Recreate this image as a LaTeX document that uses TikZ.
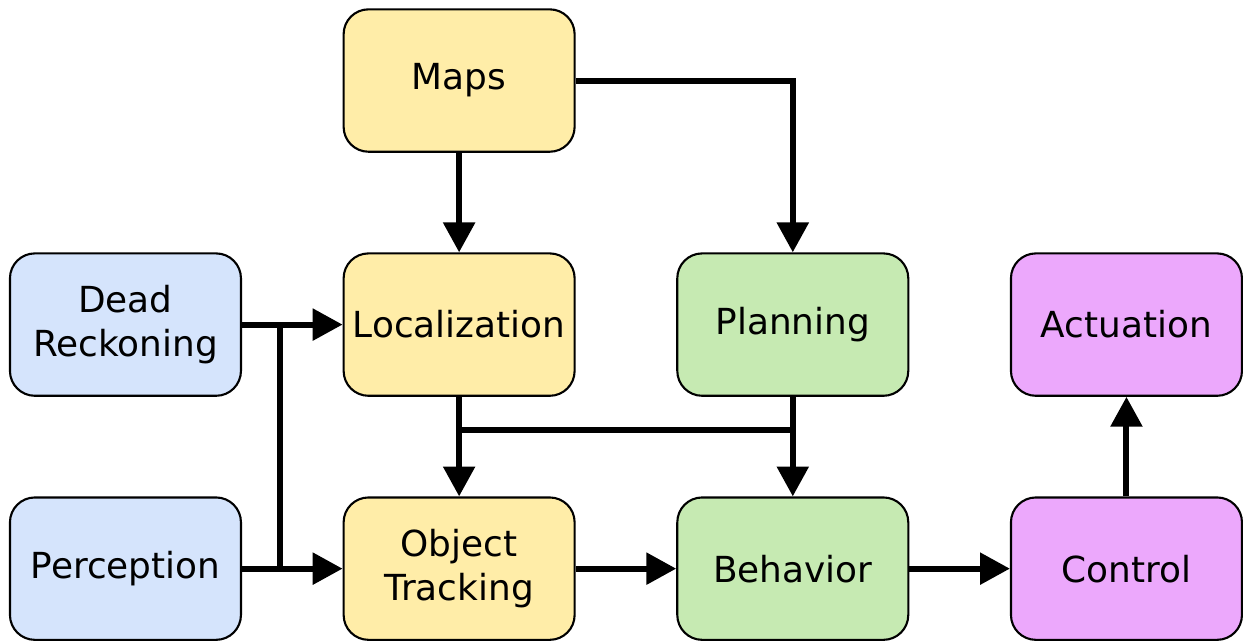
\documentclass[tikz,border=0pt]{standalone}
\usepackage{fontspec}
\setmainfont{DejaVu Sans}
\usetikzlibrary{positioning,arrows.meta,calc}

\definecolor{inblue}{RGB}{213,228,252}
\definecolor{locyellow}{RGB}{255,237,168}
\definecolor{plangreen}{RGB}{198,234,178}
\definecolor{actpurple}{RGB}{236,168,252}

\tikzset{
  block/.style={draw, line width=1.2pt, rounded corners=0.5cm,
    minimum width=4.64cm, minimum height=2.86cm, align=center,
    font=\fontsize{20.5}{25}\selectfont},
  link/.style={line width=3.4pt},
  flow/.style={link, -{Triangle[length=0.6cm,width=0.62cm]}}
}

\begin{document}
\begin{tikzpicture}[node distance=2cm and 2.02cm]
    % inputs
    \node[block, fill=inblue] (dead) {Dead\\Reckoning};
    \node[block, fill=inblue, below=of dead] (perc) {Perception};

    % localization column
    \node[block, fill=locyellow, right=of dead] (loc) {Localization};
    \node[block, fill=locyellow, above=of loc] (maps) {Maps};
    \node[block, fill=locyellow, right=of perc] (track) {Object\\Tracking};

    % planning column
    \node[block, fill=plangreen, right=of loc] (plan) {Planning};
    \node[block, fill=plangreen, right=of track] (behav) {Behavior};

    % output column
    \node[block, fill=actpurple, right=of plan] (act) {Actuation};
    \node[block, fill=actpurple, right=of behav] (ctrl) {Control};

    \useasboundingbox (-2.52,6.52) rectangle (22.34,-6.24);

    % junction points
    \coordinate (jin) at ($(dead.east)!0.38!(loc.west)$);
    \coordinate (jmid) at ($(loc.south)!0.33!(track.north)$);

    \draw[flow] (maps) -- (loc);
    \draw[flow] (maps.east) -| (plan.north);
    \draw[flow] (dead) -- (loc);
    \draw[flow] (perc) -- (track);
    \draw[link] (jin |- dead.east) -- (jin |- perc.east);
    \draw[flow] (loc) -- (track);
    \draw[flow] (plan) -- (behav);
    \draw[link] (jmid -| loc.south) -- (jmid -| plan.south);
    \draw[flow] (track) -- (behav);
    \draw[flow] (behav) -- (ctrl);
    \draw[flow] (ctrl) -- (act);
\end{tikzpicture}
\end{document}
